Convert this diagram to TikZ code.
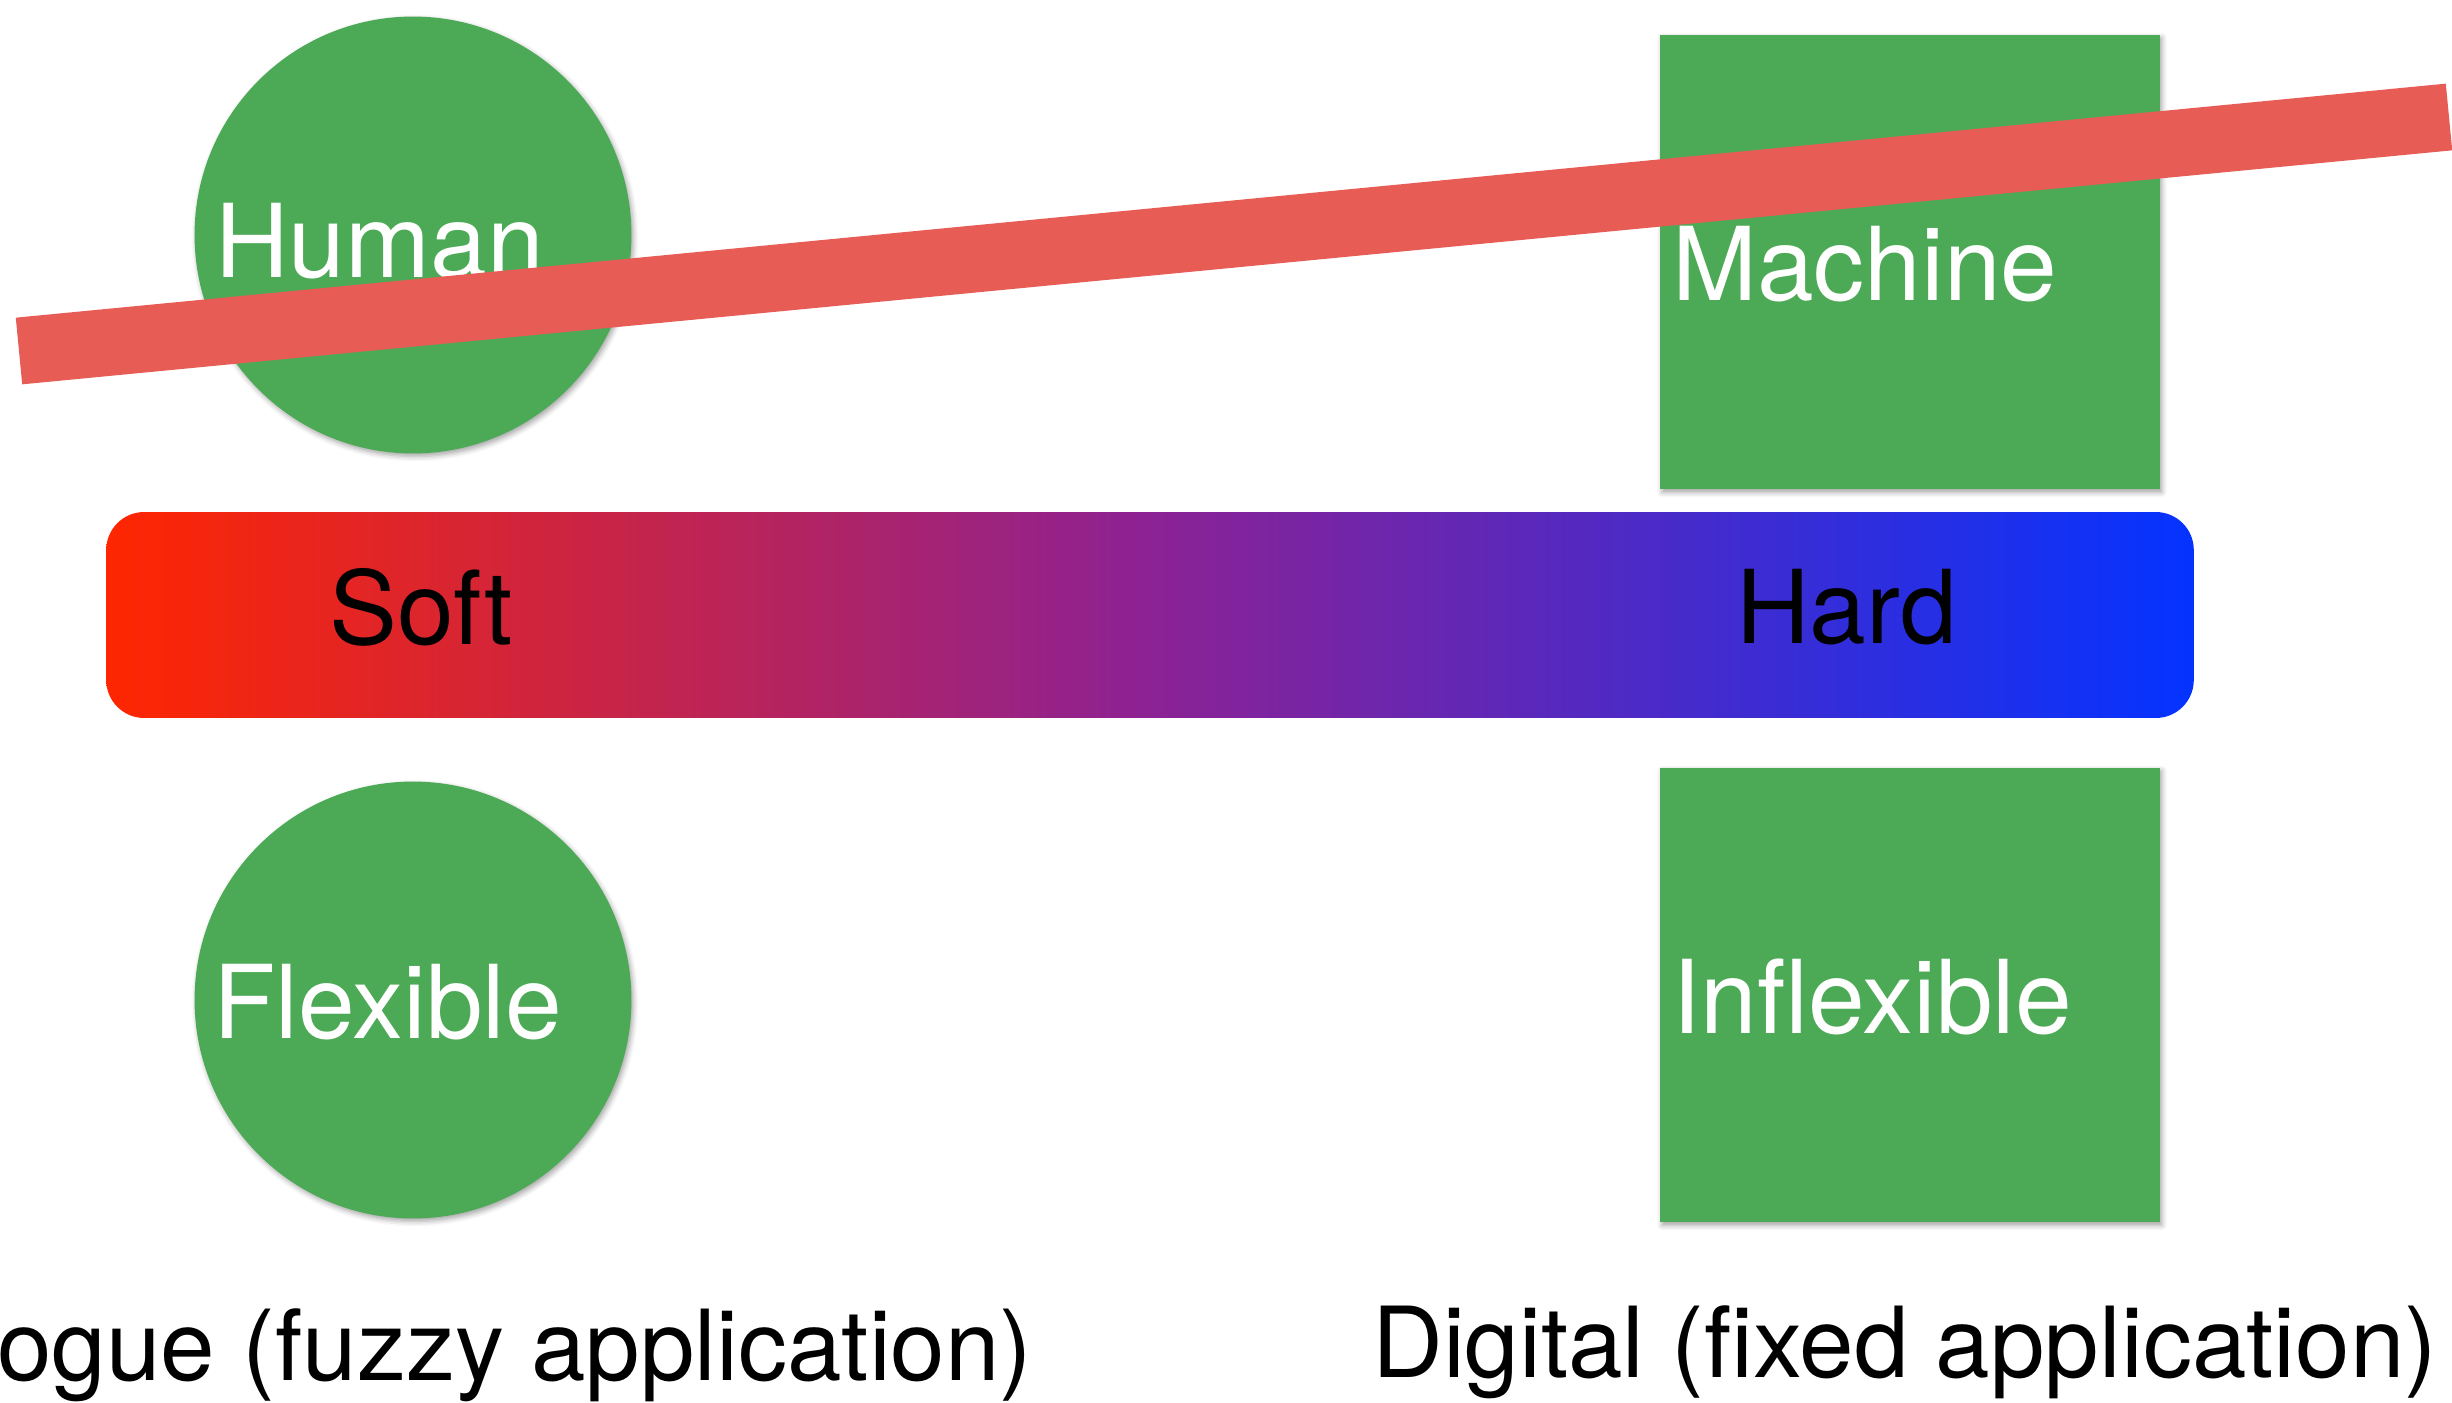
\documentclass[tikz,border=0pt]{standalone}
\usepackage{fontspec}
\setmainfont{TeX Gyre Heros}
\usepackage{tikz}
\usetikzlibrary{positioning, shadows.blur}

\definecolor{leaf}{RGB}{76,170,86}
\definecolor{strike}{RGB}{232,92,86}
\definecolor{hotend}{RGB}{255,38,0}
\definecolor{midend}{RGB}{140,34,148}
\definecolor{coldend}{RGB}{4,51,255}

\begin{document}
\begin{tikzpicture}[
        x=0.02cm, y=-0.02cm,
        shade/.style={blur shadow={shadow xshift=0.04cm, shadow yshift=-0.06cm, shadow blur radius=0.1cm, shadow opacity=35}},
        circ/.style={circle, fill=leaf, inner sep=0pt, outer sep=0pt, minimum size=8.74cm, shade},
        box/.style={rectangle, fill=leaf, inner sep=0pt, outer sep=0pt, minimum width=10cm, minimum height=9.1cm, shade},
        scale bar/.style={rectangle, rounded corners=0.76cm, inner sep=0pt, minimum width=41.76cm, minimum height=4.12cm,
            left color=hotend, right color=coldend, middle color=midend},
        word/.style={inner sep=0pt, anchor=base west, text=white, font=\fontsize{58}{70}\selectfont},
        barword/.style={word, text=black},
        caption/.style={inner sep=0pt, text=black, font=\fontsize{55.8}{67}\selectfont},
        strike line/.style={draw=strike, line width=1.34cm}
    ]
        \useasboundingbox (0,0) rectangle (2452,1403);

        \node[circ] (human) at (413,235) {};
        \node[circ] (flex) at (413,1000) {};
        \node[box] (machine) at (1910,262) {};
        \node[box] (inflex) at (1910,995) {};
        \node[scale bar] (bar) at (1150,615) {};

        \node[word] (humantxt) at (215,277) {Human};
        \node[word] (machinetxt) at (1672,300) {Machine};
        \node[word] (flextxt) at (213,1038) {Flexible};
        \node[word] (inflextxt) at (1672,1033) {Inflexible};
        \node[barword] (soft) at (329,644) {Soft};
        \node[barword] (hard) at (1736,643) {Hard};

        \node[caption, anchor=base east] (analog) at (1033,1380) {ogue (fuzzy application)};
        \node[caption, anchor=base west] (digital) at (1372,1377) {Digital (fixed application)};

        % crossing-out bar
        \coordinate (sL) at (19,351);
        \coordinate (sR) at (2449,117);
        \draw[strike line] (sL) -- (sR);
    \end{tikzpicture}
\end{document}
